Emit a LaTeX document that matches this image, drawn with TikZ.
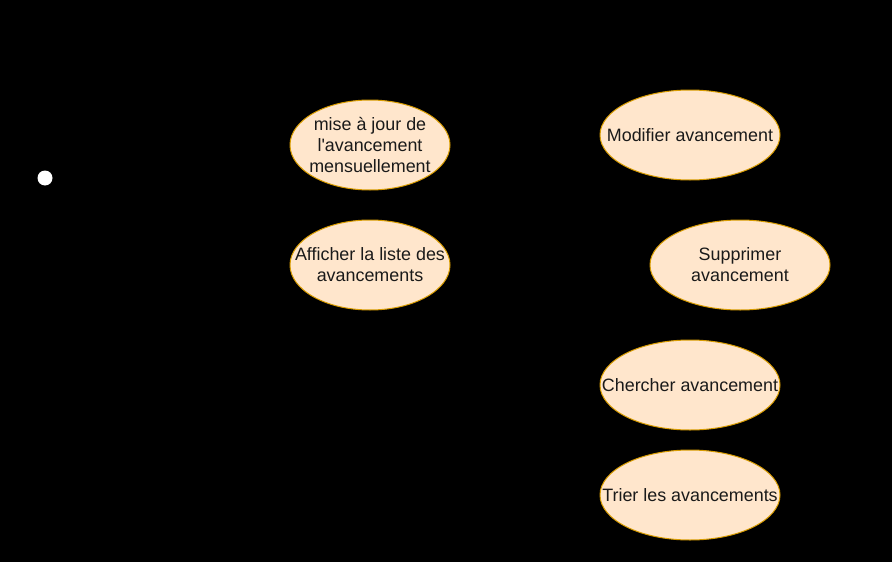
\documentclass[tikz,border=0pt]{standalone}
\usepackage{fontspec}
\setmainfont{Liberation Sans}
\usetikzlibrary{shapes.geometric}
\definecolor{ucfill}{HTML}{FFE6CC}
\definecolor{ucdraw}{HTML}{D79B00}
\definecolor{uctext}{HTML}{1A1A1A}
\begin{document}
\begin{tikzpicture}[x=1pt,y=-1pt,
  usecase/.style={ellipse, draw=ucdraw, fill=ucfill, line width=1pt, inner sep=0pt, minimum height=90pt},
  uclabel/.style={align=center, text=uctext, font=\fontsize{17.9}{21}\selectfont, inner sep=0pt}]
\fill[black] (0,0) rectangle (892,562);
\useasboundingbox (0,0) rectangle (892,562);
\node[circle, fill=white, inner sep=0pt, minimum size=15pt] (head) at (45,178) {};
\node[usecase, minimum width=160pt] (e1) at (370,145) {};
\node[uclabel] (t1) at (e1) {mise à jour de\\l\textquotesingle avancement\\mensuellement};
\node[usecase, minimum width=160pt] (e2) at (370,265) {};
\node[uclabel] (t2) at (e2) {Afficher la liste des\\avancements};
\node[usecase, minimum width=180pt] (e3) at (690,135) {};
\node[uclabel] (t3) at (e3) {Modifier avancement};
\node[usecase, minimum width=180pt] (e4) at (740,265) {};
\node[uclabel] (t4) at (e4) {Supprimer\\avancement};
\node[usecase, minimum width=180pt] (e5) at (690,385) {};
\node[uclabel] (t5) at (e5) {Chercher avancement};
\node[usecase, minimum width=180pt] (e6) at (690,495) {};
\node[uclabel] (t6) at (e6) {Trier les avancements};
\end{tikzpicture}
\end{document}
